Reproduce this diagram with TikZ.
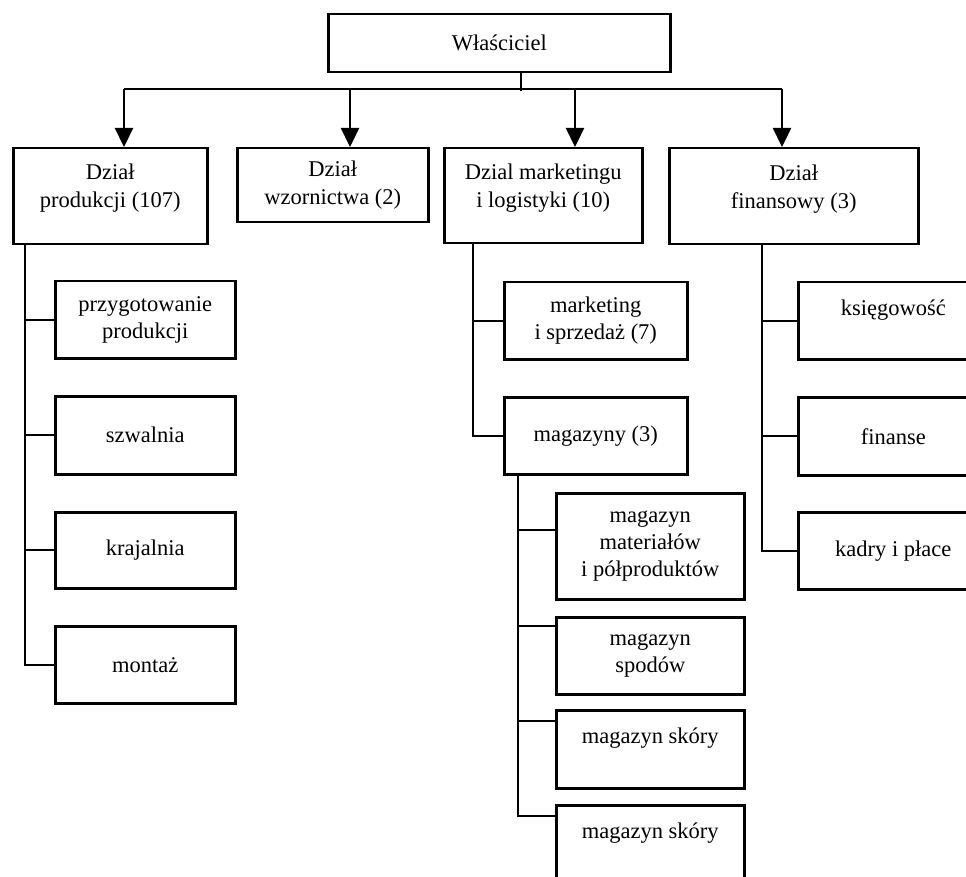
\documentclass[tikz,border=0pt]{standalone}
\usepackage{fontspec}
\setmainfont{Liberation Serif}
\usetikzlibrary{arrows.meta}
\begin{document}
\begin{tikzpicture}[x=1pt,y=-1pt,
  box/.style={draw,line width=2.5pt,anchor=north west,inner sep=0pt,align=center,
    font=\fontsize{22.5}{27}\selectfont},
  txt/.style={inner sep=0pt,align=center,font=\fontsize{22.5}{28}\selectfont},
  conn/.style={line width=2.3pt},
  arr/.style={line width=2.3pt,-{Triangle[length=19pt,width=18pt]}}]
\useasboundingbox (0,0) rectangle (966,877);

% owner
\node[box,minimum width=342pt,minimum height=58pt] (own) at (327,13) {Właściciel};

% level 1
\node[box,minimum width=194pt,minimum height=96pt] (prod) at (12,147) {};
\node[txt] (prodT) at ([yshift=-41pt]prod.north) {Dział\\produkcji (107)};
\node[box,minimum width=191pt,minimum height=74pt,font=\fontsize{22.5}{28}\selectfont] (wzor) at (236,147) {Dział\\wzornictwa (2)};
\node[box,minimum width=198pt,minimum height=95pt] (mark) at (443,147) {};
\node[txt] (markT) at ([yshift=-41pt]mark.north) {Dzial marketingu\\i logistyki (10)};
\node[box,minimum width=249pt,minimum height=96pt] (fin) at (668,147) {};
\node[txt] (finT) at ([yshift=-42pt]fin.north) {Dział\\finansowy (3)};

% production
\node[box,minimum width=180pt,minimum height=77pt] (prz) at (54,280) {przygotowanie\\produkcji};
\node[box,minimum width=180pt,minimum height=78pt] (szw) at (54,395) {szwalnia};
\node[box,minimum width=180pt,minimum height=76pt] (kra) at (54,511) {krajalnia};
\node[box,minimum width=180pt,minimum height=77pt] (mon) at (54,625) {montaż};

% marketing
\node[box,minimum width=183pt,minimum height=77pt] (mis) at (503,281) {marketing\\i sprzedaż (7)};
\node[box,minimum width=183pt,minimum height=77pt] (mag) at (503,396) {magazyny (3)};

% warehouses
\node[box,minimum width=188pt,minimum height=106pt] (mm) at (555,492) {magazyn\\materiałów\\i półproduktów};
\node[box,minimum width=188pt,minimum height=77pt] (msp) at (555,616) {magazyn\\spodów};
\node[box,minimum width=188pt,minimum height=78pt] (ms1) at (555,709) {magazyn skóry\\\mbox{}};
\node[box,minimum width=188pt,minimum height=78pt] (ms2) at (555,804) {magazyn skóry\\\mbox{}};

% finance
\node[box,minimum width=190pt,minimum height=77pt] (ks) at (797,281) {księgowość\\\mbox{}};
\node[box,minimum width=190pt,minimum height=78pt] (fn) at (797,396) {finanse};
\node[box,minimum width=190pt,minimum height=77pt] (kp) at (797,511) {kadry i płace};

% bus
\coordinate (busC) at ([xshift=22pt,yshift=-18pt]own.south);
\coordinate (a1) at (124,89);
\coordinate (a2) at (350,89);
\coordinate (a3) at (575,89);
\coordinate (a4) at (782,89);
\draw[conn] (own.south -| busC) -- (busC);
\draw[conn] (a1) -- (a4);
\draw[arr] (a1) -- (a1 |- prod.north);
\draw[arr] (a2) -- (a2 |- wzor.north);
\draw[arr] (a3) -- (a3 |- mark.north);
\draw[arr] (a4) -- (a4 |- fin.north);

% trunks
\coordinate (ptr) at ([xshift=13pt]prod.south west);
\foreach \n in {prz,szw,kra,mon} \draw[conn] (\n.west) -| (ptr);
\coordinate (mtr) at ([xshift=30pt]mark.south west);
\foreach \n in {mis,mag} \draw[conn] (\n.west) -| (mtr);
\coordinate (str) at ([xshift=15pt]mag.south west);
\draw[conn] ([yshift=-38pt]mm.north west) -| (str);
\draw[conn] ([yshift=-10pt]msp.north west) -| (str);
\draw[conn] ([yshift=-12pt]ms1.north west) -| (str);
\draw[conn] ([yshift=-12pt]ms2.north west) -| (str);
\coordinate (ftr) at ([xshift=94pt]fin.south west);
\foreach \n in {ks,fn,kp} \draw[conn] (\n.west) -| (ftr);
\end{tikzpicture}
\end{document}
